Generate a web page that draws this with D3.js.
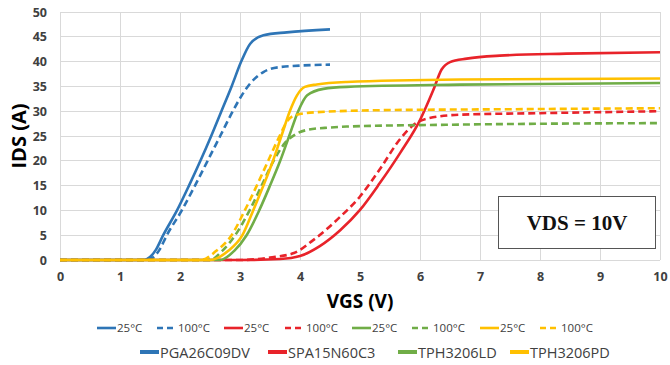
<!DOCTYPE html>
<html><head><meta charset="utf-8">
<script src="https://cdn.jsdelivr.net/npm/d3@7"></script>
<style>body{margin:0;background:#fff}svg{display:block}</style>
</head><body>
<svg id="c" width="670" height="365"></svg>
<script>
// ---- data (VGS in V, IDS in A) ----
const xTicks = [0,1,2,3,4,5,6,7,8,9,10];
const yTicks = [0,5,10,15,20,25,30,35,40,45,50];
const devices = ["PGA26C09DV","SPA15N60C3","TPH3206LD","TPH3206PD"];
const tempLabels = ["25°C","100°C"];

const pga25 = [[0,0],[1.39,0],[1.5,0.6],[1.6,2.1],[1.72,5],[1.95,10],[2.15,15],[2.34,20],[2.52,25],[2.69,30],[2.86,35],[3.02,40],[3.17,43.6],[3.39,45.3],[3.78,45.9],[4.5,46.5]];
const pga100 = [[0,0],[1.45,0],[1.56,0.6],[1.66,2.1],[1.78,5],[2.03,10],[2.25,15],[2.46,20],[2.67,25],[2.88,30],[3.03,33.2],[3.17,35.6],[3.39,37.9],[3.67,38.9],[4.5,39.4]];
const spa25 = [[0,0],[3.0,0],[3.67,0.2],[4.0,0.8],[4.33,2.8],[4.67,6.0],[5.0,10.1],[5.33,15.5],[5.67,21.6],[6.0,28.2],[6.22,34.2],[6.36,38.4],[6.5,39.9],[6.78,40.6],[7.33,41.2],[8.44,41.6],[10,41.9]];
const spa100 = [[0,0],[3.0,0],[3.5,0.5],[3.9,1.4],[4.22,4.0],[4.67,8.7],[5.0,12.8],[5.33,18.3],[5.67,24.4],[5.89,27.2],[6.11,28.5],[6.67,29.3],[8.0,29.6],[10,30.0]];
const ld25 = [[0,0],[2.67,0],[2.9,1.8],[3.11,5],[3.32,10],[3.5,15],[3.67,20],[3.82,25],[3.97,30],[4.12,33.2],[4.39,34.5],[4.78,34.9],[6.67,35.35],[10,35.7]];
const ld100 = [[0,0],[2.5,0],[2.7,1.8],[2.92,5],[3.16,10],[3.36,15],[3.56,20],[3.75,23.6],[3.95,25.5],[4.15,26.3],[4.5,26.7],[4.78,26.9],[6.67,27.3],[10,27.6]];
const pd25 = [[0,0],[2.5,0],[2.8,1.8],[3.04,5],[3.22,10],[3.39,15],[3.55,20],[3.69,25],[3.83,30],[3.95,33.2],[4.08,34.9],[4.28,35.4],[4.78,35.9],[6.67,36.4],[10,36.6]];
const pd100 = [[0,0],[2.35,0],[2.6,1.8],[2.86,5],[3.08,10],[3.28,15],[3.47,20],[3.66,25],[3.8,28.2],[3.95,29.3],[4.28,29.8],[5.33,30.2],[7.5,30.4],[10,30.6]];

const colors = ["#2E75B6","#E8232A","#70AD47","#FFC000"];
const seriesList = [
  {d:pga100, c:0, dash:true},{d:pga25, c:0, dash:false},
  {d:spa100, c:1, dash:true},{d:spa25, c:1, dash:false},
  {d:ld100, c:2, dash:true},{d:ld25, c:2, dash:false},
  {d:pd100, c:3, dash:true},{d:pd25, c:3, dash:false}
];

// ---- chart ----
const svg = d3.select("#c");
const m = {l:60, r:10, t:12, b:105};
const W = 670, H = 365;
const x = d3.scaleLinear().domain([0,10]).range([m.l, W-m.r]);
const y = d3.scaleLinear().domain([0,50]).range([H-m.b, m.t]);

const font = "'Open Sans', 'Liberation Sans', sans-serif";

// gridlines
svg.append("g").selectAll("line.h").data(yTicks).join("line")
  .attr("x1", x(0)).attr("x2", x(10)).attr("y1", d=>y(d)).attr("y2", d=>y(d))
  .attr("stroke","#d9d9d9").attr("stroke-width",1).attr("shape-rendering","crispEdges");
svg.append("g").selectAll("line.v").data(xTicks).join("line")
  .attr("y1", y(0)).attr("y2", y(50)).attr("x1", d=>x(d)).attr("x2", d=>x(d))
  .attr("stroke","#d9d9d9").attr("stroke-width",1).attr("shape-rendering","crispEdges");

// axes (labels only)
const yAxis = svg.append("g").attr("transform",`translate(${x(0)},0)`)
  .call(d3.axisLeft(y).tickValues(yTicks).tickSize(0).tickPadding(13));
const xAxis = svg.append("g").attr("transform",`translate(0,${y(0)})`)
  .call(d3.axisBottom(x).tickValues(xTicks).tickSize(0).tickPadding(12));
[yAxis,xAxis].forEach(a=>{
  a.select(".domain").remove();
  a.selectAll("text").attr("font-family",font).attr("font-size",12.5).attr("font-weight","bold").attr("fill","#404040");
});

// axis titles
svg.append("text").attr("x", 360).attr("y", 308).attr("text-anchor","middle")
  .attr("font-family",font).attr("font-size",19).attr("font-weight","bold").attr("fill","#000").text("VGS (V)");
svg.append("text").attr("transform","translate(26,136) rotate(-90)").attr("text-anchor","middle")
  .attr("font-family",font).attr("font-size",20).attr("font-weight","bold").attr("fill","#000").text("IDS (A)");

// curves
const line = d3.line().x(d=>x(d[0])).y(d=>y(d[1])).curve(d3.curveMonotoneX);
svg.append("g").selectAll("path").data(seriesList).join("path")
  .attr("d", s=>line(s.d)).attr("fill","none")
  .attr("stroke", s=>colors[s.c]).attr("stroke-width",2.6)
  .attr("stroke-dasharray", s=>s.dash?"7,4":null)
  .attr("stroke-linejoin","round");

// VDS box
const box = svg.append("g");
box.append("rect").attr("x",498.5).attr("y",196.5).attr("width",157).attr("height",52)
  .attr("fill","#fff").attr("stroke","#555").attr("stroke-width",1);
box.append("text").attr("x",577).attr("y",230).attr("text-anchor","middle")
  .attr("font-family","'Liberation Serif', 'Times New Roman', serif").attr("font-size",21).attr("font-weight","bold")
  .attr("fill","#111").text("VDS = 10V");

// legend row 1 (temperatures)
const row1 = [];
devices.forEach((dv,i)=>{ row1.push({c:i,dash:false,t:tempLabels[0]}); row1.push({c:i,dash:true,t:tempLabels[1]}); });
const row1X = [97,157,224,285,352,412,480,540];
const lg1 = svg.append("g").selectAll("g").data(row1).join("g")
  .attr("transform",(d,i)=>`translate(${row1X[i]},328)`);
lg1.append("line").attr("x1",0).attr("x2",19).attr("y1",0).attr("y2",0)
  .attr("stroke",d=>colors[d.c]).attr("stroke-width",2.6).attr("stroke-dasharray",d=>d.dash?"6,4":null);
lg1.append("text").attr("x",d=>d.dash?21:20).attr("y",4).attr("font-family",font).attr("font-size",11.5)
  .attr("fill","#404040").text(d=>d.t);

// legend row 2 (devices)
const row2X = [140,268,398,510];
const lg2 = svg.append("g").selectAll("g").data(devices).join("g")
  .attr("transform",(d,i)=>`translate(${row2X[i]},352)`);
lg2.append("line").attr("x1",0).attr("x2",19).attr("y1",0).attr("y2",0)
  .attr("stroke",(d,i)=>colors[i]).attr("stroke-width",4);
lg2.append("text").attr("x",20).attr("y",5.5).attr("font-family",font).attr("font-size",14.5)
  .attr("fill","#404040").text(d=>d);
</script>
</body></html>
